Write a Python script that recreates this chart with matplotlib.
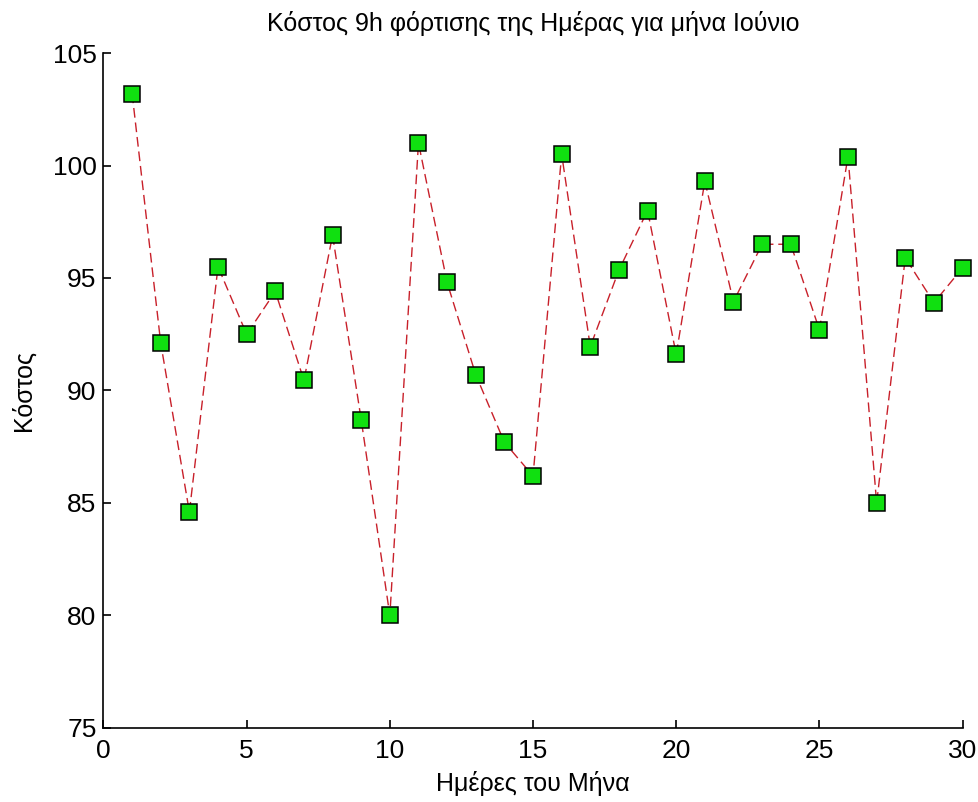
import matplotlib
matplotlib.use("Agg")
import matplotlib.pyplot as plt

days = list(range(1, 31))
cost = [103.2, 92.1, 84.6, 95.5, 92.5, 94.4, 90.45, 96.9, 88.7, 80.0,
        101.0, 94.8, 90.7, 87.7, 86.2, 100.5, 91.95, 95.35, 98.0, 91.6,
        99.3, 93.95, 96.5, 96.5, 92.7, 100.4, 85.0, 95.9, 93.9, 95.45]
x_ticks = [0, 5, 10, 15, 20, 25, 30]
y_ticks = [75, 80, 85, 90, 95, 100, 105]
title = "Κόστος 9h φόρτισης της Ημέρας για μήνα Ιούνιο"
xlabel = "Ημέρες του Μήνα"
ylabel = "Κόστος"

plt.rcParams['font.family'] = ['Liberation Sans', 'DejaVu Sans']
fig = plt.figure(figsize=(9.79, 8.02), dpi=100)
ax = fig.add_axes([0.1057, 0.0923, 0.8775, 0.8416])

ax.plot(days, cost, color='#c8202a', linewidth=1.0, dashes=(7, 3.5),
        marker='s', markersize=12, markerfacecolor='#10e010',
        markeredgecolor='black', markeredgewidth=1.1, clip_on=False)

ax.set_xlim(0, 30)
ax.set_ylim(75, 105)
ax.set_xticks(x_ticks)
ax.set_yticks(y_ticks)
ax.spines['top'].set_visible(False)
ax.spines['right'].set_visible(False)
for s in ('left', 'bottom'):
    ax.spines[s].set_linewidth(1.2)
ax.tick_params(direction='in', length=6, width=1.2, labelsize=19)
ax.tick_params(axis='x', pad=8)
ax.tick_params(axis='y', pad=5)

ax.set_title(title, fontsize=18, pad=16)
ax.set_xlabel(xlabel, fontsize=18, labelpad=6)
ax.set_ylabel(ylabel, fontsize=18, labelpad=12)

fig.savefig("out.png", dpi=100)
